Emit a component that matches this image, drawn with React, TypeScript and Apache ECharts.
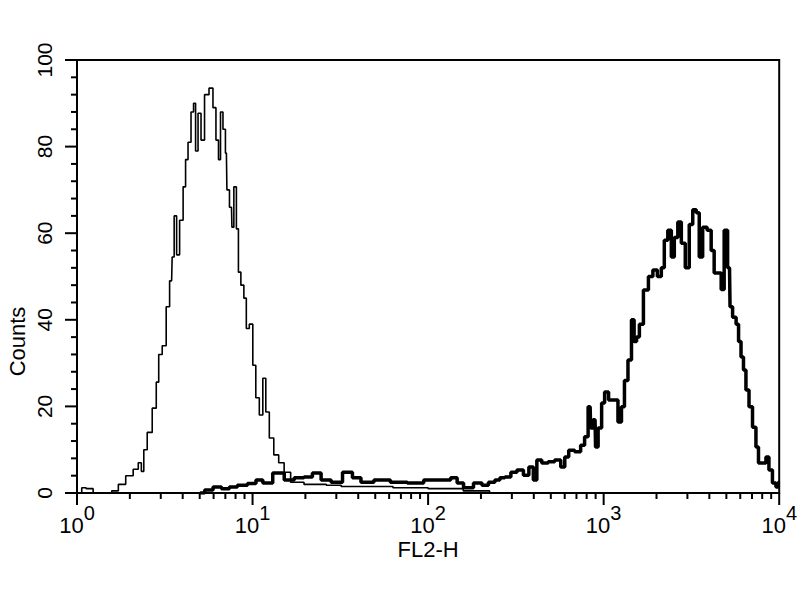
import * as echarts from "echarts";
import React, { useEffect, useRef } from "react";

// FL2-H axis is drawn in log10 space: 10^0 .. 10^4
const decades = [0, 1, 2, 3, 4];
const minorSteps = [2, 3, 4, 5, 6, 7, 8, 9];
const countTicks = [0, 20, 40, 60, 80, 100];
const countMinorSteps = [4, 8, 12, 16];

// [log10(FL2-H), counts] — control (thin line)
const controlHist: [number, number][] = [
  [0, 0], [0.02, 0], [0.034, 1.2], [0.07, 1], [0.114, 0], [0.18, 0], [0.216, 0.5],
  [0.255, 2], [0.3, 4], [0.34, 5.5], [0.358, 7], [0.375, 5], [0.386, 10], [0.414, 14],
  [0.443, 19.6], [0.46, 25.6], [0.471, 32], [0.5, 34], [0.516, 43], [0.539, 49],
  [0.545, 54.5], [0.562, 64], [0.573, 55], [0.596, 63], [0.613, 70.7], [0.624, 77],
  [0.641, 81], [0.658, 88], [0.67, 90], [0.681, 79], [0.698, 87.7], [0.715, 81.5],
  [0.738, 92], [0.766, 93.5], [0.783, 89], [0.8, 81.5], [0.812, 77], [0.823, 88],
  [0.84, 84], [0.851, 78.5], [0.857, 70], [0.88, 66], [0.885, 61.4], [0.902, 70.7],
  [0.914, 61], [0.925, 51], [0.942, 48], [0.959, 45], [0.97, 38], [0.993, 39],
  [1.01, 29.5], [1.027, 22], [1.05, 18], [1.067, 26.5], [1.084, 18.7], [1.107, 12.7],
  [1.135, 8.8], [1.163, 7], [1.197, 4.8], [1.237, 2.5], [1.266, 2.5], [1.32, 2],
  [1.38, 2], [1.46, 1.8], [1.55, 1.5], [1.7, 1.5], [1.9, 1.2], [2.1, 1], [2.3, 0.5],
  [2.4, 0], [4, 0],
];

// [log10(FL2-H), counts] — stained sample (thick line)
const stainedHist: [number, number][] = [
  [0.7, 0], [0.755, 0.7], [0.795, 1.4], [0.851, 1], [0.885, 1.4], [0.942, 1.8],
  [1.0, 2.2], [1.039, 3], [1.078, 2.3], [1.152, 4.6], [1.209, 3], [1.266, 3.5],
  [1.32, 3.7], [1.362, 4.6], [1.419, 3], [1.476, 2.5], [1.549, 4.8], [1.589, 3.5],
  [1.646, 2.5], [1.737, 3], [1.833, 2.5], [1.93, 2.3], [2.02, 3], [2.1, 3],
  [2.157, 3.5], [2.174, 2.3], [2.23, 1.2], [2.287, 2.3], [2.327, 1.8], [2.361, 2.5],
  [2.4, 3], [2.418, 3.5], [2.457, 3.7], [2.486, 4.8], [2.526, 5.3], [2.56, 4.1],
  [2.588, 6], [2.611, 3], [2.628, 7.6], [2.667, 6.9], [2.701, 7.2], [2.741, 7.6],
  [2.77, 6], [2.787, 8.3], [2.815, 9.9], [2.855, 9.5], [2.883, 11], [2.9, 13],
  [2.923, 19.9], [2.929, 15], [2.951, 16.9], [2.957, 10.6], [2.98, 15], [2.997, 20.8],
  [3.014, 23.3], [3.042, 21.5], [3.07, 21.5], [3.093, 16.4], [3.11, 19.9], [3.127, 26],
  [3.15, 30.7], [3.167, 40], [3.18, 35], [3.195, 36], [3.212, 39], [3.241, 46.9],
  [3.269, 50], [3.292, 51.5], [3.32, 50], [3.337, 52], [3.354, 58.4], [3.377, 60.7],
  [3.394, 54.5], [3.411, 59], [3.434, 62.6], [3.451, 57.7], [3.479, 52], [3.496, 62],
  [3.519, 65.4], [3.536, 64.7], [3.553, 54.5], [3.575, 61.4], [3.604, 60.7], [3.621, 56],
  [3.638, 50.8], [3.661, 50.8], [3.678, 47], [3.695, 60.7], [3.717, 52], [3.723, 43],
  [3.746, 40.6], [3.763, 39], [3.774, 35], [3.791, 31.4], [3.802, 28.4], [3.819, 23.8],
  [3.837, 19.9], [3.859, 15.2], [3.876, 10.6], [3.888, 6.9], [3.916, 6.9], [3.933, 8.3],
  [3.95, 5.3], [3.973, 2.3], [3.99, 1.4], [4.0, 2.5],
];

const xMinor = decades
  .slice(0, -1)
  .flatMap((d) => minorSteps.map((k) => d + Math.log10(k)));
const yMinor = countTicks
  .slice(0, -1)
  .flatMap((c) => countMinorSteps.map((s) => c + s));

const FONT = "Liberation Sans";
const MAJOR_LEN = 12;
const MINOR_LEN = 6;

const App = () => {
  const ref = useRef<HTMLDivElement>(null);

  useEffect(() => {
    document.body.style.margin = "0";
    const option = {
      animation: false,
      grid: {
        left: 77,
        right: 17,
        top: 60,
        bottom: 107,
        show: true,
        borderColor: "#000",
        borderWidth: 2,
      },
      xAxis: {
        type: "value",
        min: 0,
        max: 4,
        interval: 1,
        axisLine: { show: true, onZero: false, lineStyle: { color: "#000", width: 2 } },
        axisTick: { show: false },
        splitLine: { show: false },
        axisLabel: {
          margin: 10,
          formatter: (v: number) => `{b|10}{s|${v}}`,
          rich: {
            b: { fontFamily: FONT, fontSize: 22, color: "#000", verticalAlign: "bottom" },
            s: {
              fontFamily: FONT,
              fontSize: 20,
              color: "#000",
              verticalAlign: "bottom",
              padding: [0, 0, 13, 0],
            },
          },
        },
      },
      yAxis: {
        type: "value",
        min: 0,
        max: 100,
        interval: 20,
        axisLine: { show: true, onZero: false, lineStyle: { color: "#000", width: 2 } },
        axisTick: { show: false },
        splitLine: { show: false },
        axisLabel: {
          rotate: 90,
          margin: 22,
          color: "#000",
          fontFamily: FONT,
          fontSize: 21,
        },
      },
      series: [
        {
          name: "control",
          type: "line",
          step: "middle",
          showSymbol: false,
          lineStyle: { color: "#000", width: 1.6 },
          data: controlHist,
        },
        {
          name: "stained",
          type: "line",
          step: "middle",
          showSymbol: false,
          lineStyle: { color: "#000", width: 3.5 },
          data: stainedHist,
        },
      ],
    };
    const chart = echarts.init(ref.current, null, { renderer: "svg" });
    chart.setOption(option);

    // tick marks and axis titles, placed from the axes' own scales
    const px = (x: number, y: number) =>
      chart.convertToPixel({ xAxisIndex: 0, yAxisIndex: 0 }, [x, y]) as number[];
    const [x0, y0] = px(0, 0);
    const [x4, y100] = px(4, 100);
    const tickStyle = { stroke: "#000", lineWidth: 2 };
    const xTick = (v: number, len: number) => {
      const p = px(v, 0);
      return { type: "line", silent: true, shape: { x1: p[0], y1: y0, x2: p[0], y2: y0 + len }, style: tickStyle };
    };
    const yTick = (v: number, len: number) => {
      const p = px(0, v);
      return { type: "line", silent: true, shape: { x1: x0, y1: p[1], x2: x0 - len, y2: p[1] }, style: tickStyle };
    };
    const elements: any[] = [
      ...decades.map((d) => xTick(d, MAJOR_LEN)),
      ...xMinor.map((d) => xTick(d, MINOR_LEN)),
      ...countTicks.map((c) => yTick(c, MAJOR_LEN)),
      ...yMinor.map((c) => yTick(c, MINOR_LEN)),
      {
        type: "text",
        silent: true,
        x: (x0 + x4) / 2,
        y: y0 + 56,
        style: {
          text: "FL2-H",
          fill: "#000",
          font: `22px "${FONT}"`,
          textAlign: "center",
          textVerticalAlign: "middle",
        },
      },
      {
        type: "text",
        silent: true,
        x: x0 - 60,
        y: (y0 + y100) / 2 + 65,
        rotation: Math.PI / 2,
        style: {
          text: "Counts",
          fill: "#000",
          font: `22px "${FONT}"`,
          textAlign: "center",
          textVerticalAlign: "middle",
        },
      },
    ];
    chart.setOption({ graphic: { elements } });

    return () => {
      chart.dispose();
    };
  }, []);

  return <div ref={ref} style={{ width: 800, height: 600 }}></div>;
};

export default App;
